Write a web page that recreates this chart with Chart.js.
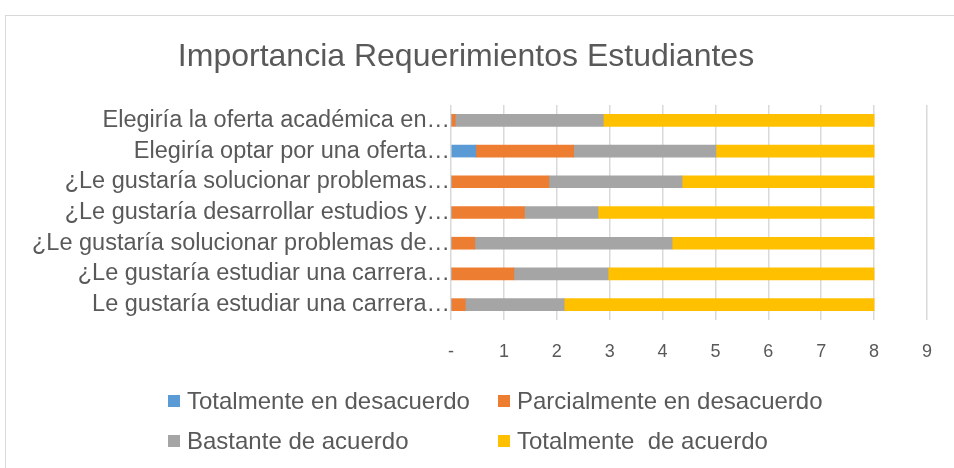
<!DOCTYPE html>
<html>
<head>
<meta charset="utf-8">
<script src="https://cdn.jsdelivr.net/npm/chart.js@4.4.0/dist/chart.umd.min.js"></script>
<style>
  body { margin: 0; background: #fff; }
  #wrap { position: relative; width: 954px; height: 468px; overflow: hidden; }
  #marco { position: absolute; left: 5px; top: 15px; width: 1000px; height: 500px;
           border-left: 1px solid #d9d9d9; border-top: 1px solid #d9d9d9; }
  #grafica { position: absolute; left: 0; top: 0; }
  .ley { position: absolute; font-family: 'Liberation Sans', Arial, sans-serif; font-size: 24px;
         color: #595959; line-height: 24px; white-space: pre; }
  .caja { position: absolute; width: 12px; height: 12px; }
</style>
</head>
<body>
<div id="wrap">
  <div id="marco"></div>
  <canvas id="grafica" width="954" height="468"></canvas>
  <div id="leyenda"></div>
</div>
<script>
// categorías (de arriba hacia abajo)
const categorias = [
    'Elegiría la oferta académica en…',
    'Elegiría optar por una oferta…',
    '¿Le gustaría solucionar problemas…',
    '¿Le gustaría desarrollar estudios y…',
    '¿Le gustaría solucionar problemas de…',
    '¿Le gustaría estudiar una carrera…',
    'Le gustaría estudiar una carrera…'
];

const totalDesacuerdo   = [0, 0.47, 0, 0, 0, 0, 0];
const parcialDesacuerdo = [0.08, 1.85, 1.85, 1.39, 0.45, 1.19, 0.27];
const bastanteAcuerdo   = [2.80, 2.69, 2.52, 1.39, 3.73, 1.78, 1.87];
const totalAcuerdo      = [5.12, 2.99, 3.63, 5.22, 3.82, 5.03, 5.86];

const series = ['Totalmente en desacuerdo', 'Parcialmente en desacuerdo',
                'Bastante de acuerdo', 'Totalmente  de acuerdo'];
const colores = ['#5B9BD5', '#ED7D31', '#A5A5A5', '#FFC000'];

const ticksX = ['-', '1', '2', '3', '4', '5', '6', '7', '8', '9'];

const fuente = "'Liberation Sans', Arial, sans-serif";
const valores = [totalDesacuerdo, parcialDesacuerdo, bastanteAcuerdo, totalAcuerdo];

const data = {
    labels: categorias,
    datasets: series.map(function (s, i) {
        return {
            label: s,
            data: valores[i],
            backgroundColor: colores[i],
            borderWidth: 0,
            barThickness: 12
        };
    })
};

const config = {
    type: 'bar',
    data: data,
    options: {
        indexAxis: 'y',
        responsive: false,
        animation: false,
        layout: { padding: { left: 5, right: 27, top: 0, bottom: 106 } },
        plugins: {
            legend: { display: false },
            tooltip: { enabled: false },
            title: {
                display: true,
                text: 'Importancia Requerimientos Estudiantes',
                color: '#595959',
                font: { family: fuente, size: 32, weight: 'normal' },
                padding: { top: 38, bottom: 28.6 }
            }
        },
        scales: {
            x: {
                stacked: true,
                min: 0,
                max: 9,
                ticks: {
                    stepSize: 1,
                    color: '#595959',
                    font: { family: fuente, size: 18 },
                    padding: 21,
                    callback: function (v, i) { return ticksX[i]; }
                },
                grid: { color: '#d9d9d9', lineWidth: 1.5, drawTicks: false },
                border: { display: false },
                afterFit: function (scale) { scale.height = 42; }
            },
            y: {
                stacked: true,
                ticks: {
                    color: '#595959',
                    font: { family: fuente, size: 23.5 },
                    padding: 1,
                    autoSkip: false
                },
                grid: { display: false, drawTicks: false },
                border: { display: false },
                afterFit: function (scale) { scale.width = 446; }
            }
        }
    }
};

const chart = new Chart(document.getElementById('grafica').getContext('2d'), config);

// leyenda en dos columnas, como en la original
const posLey = [[168, 395], [498, 395], [168, 435], [498, 435]];
const ley = document.getElementById('leyenda');
series.forEach(function (s, i) {
    const caja = document.createElement('div');
    caja.className = 'caja';
    caja.style.left = posLey[i][0] + 'px';
    caja.style.top = posLey[i][1] + 'px';
    caja.style.background = colores[i];
    ley.appendChild(caja);
    const txt = document.createElement('div');
    txt.className = 'ley';
    txt.style.left = (posLey[i][0] + 19) + 'px';
    txt.style.top = (posLey[i][1] - 6) + 'px';
    txt.textContent = s;
    ley.appendChild(txt);
});
</script>
</body>
</html>
